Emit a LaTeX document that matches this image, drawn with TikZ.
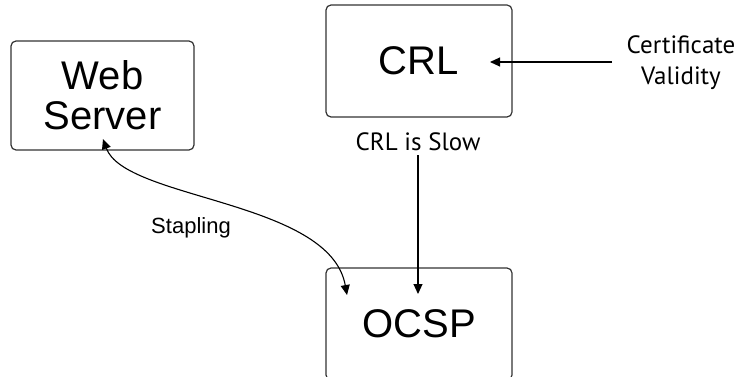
\documentclass[tikz,border=0pt]{standalone}
\usepackage{fontspec}
\setmainfont{Liberation Sans}
\newfontfamily\humfont{PT Sans}
\usetikzlibrary{arrows.meta}
\begin{document}
\begin{tikzpicture}[x=1pt,y=-1pt,
  box/.style={draw=black!80, line width=1.2pt, rounded corners=5pt, align=center,
    font=\fontsize{40}{40}\selectfont, inner sep=0pt},
  conn/.style={line width=1.1pt, -{Triangle[length=10pt,width=9pt]}},
  lbl/.style={font=\humfont\fontsize{25}{31}\selectfont, align=center, inner sep=0pt},
  lbla/.style={font=\fontsize{22}{24}\selectfont, inner sep=0pt}]
\useasboundingbox (0,0) rectangle (742,377);
\clip (0,0) rectangle (742,377);
\node[box, minimum width=183pt, minimum height=109pt] (web) at (102.5,95.5) {Web\\Server};
\node[box, minimum width=186pt, minimum height=112pt] (crl) at (419,61) {CRL};
\node[box, minimum width=186pt, minimum height=112pt] (ocsp) at (419,324) {OCSP};
\node[lbl] (slow) at (418,142) {CRL is Slow};
\node[lbl] (cert) at (681,63) {Certificate\\Validity};
\node[lbla] (stap) at (191,228) {Stapling};
\coordinate (crlin) at (490,62);
\coordinate (ocsptop) at (418,294);
\coordinate (webin) at (103,139);
\coordinate (ocspin) at (347,295);
\coordinate (certw) at (612,62);
\draw[conn] (certw) -- (crlin);
\draw[conn] (slow.south) ++(0,4) -- (ocsptop);
\draw[conn, {Triangle[length=10pt,width=9pt]}-{Triangle[length=10pt,width=9pt]}] (webin) .. controls (125,200) and (330,200) .. (ocspin);
\end{tikzpicture}
\end{document}
